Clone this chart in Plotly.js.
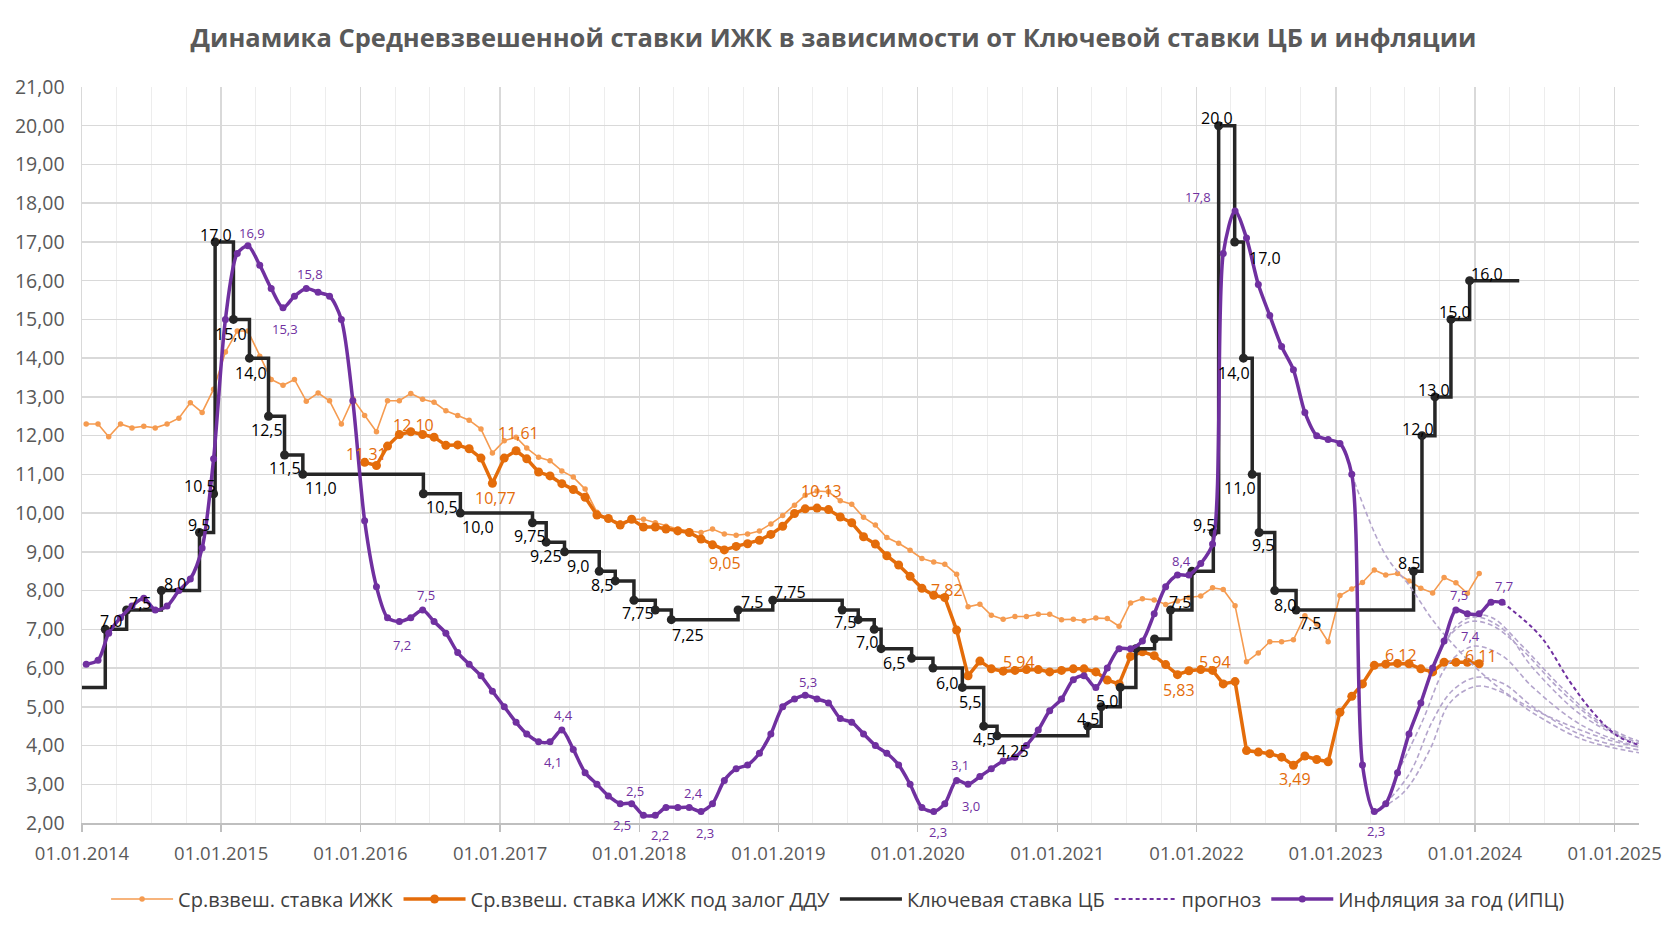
<!DOCTYPE html>
<html><head><meta charset="utf-8">
<script src="https://cdn.plot.ly/plotly-3.0.1.min.js"></script>
<style>html,body{margin:0;padding:0;background:#fff}#chart{width:1667px;height:938px}</style>
</head><body><div id="chart"></div>
<script>
// ---------------- DATA ----------------
// Ср.взвеш. ставка ИЖК, monthly from 2014-01 to 2024-01
const izhkStart = [2014, 1];
const izhkRate = [
  12.30, 12.30, 11.97, 12.30, 12.20, 12.24, 12.20, 12.30, 12.45, 12.85, 12.60, 13.20,
  14.16, 14.70, 14.70, 14.05, 13.45, 13.30, 13.45, 12.89, 13.10, 12.90, 12.30, 12.95,
  12.52, 12.10, 12.90, 12.90, 13.09, 12.94, 12.86, 12.64, 12.52, 12.40, 12.17, 11.55,
  11.87, 11.96, 11.68, 11.44, 11.35, 11.09, 10.93, 10.62, 10.02, 9.85, 9.75, 9.84,
  9.84, 9.75, 9.66, 9.59, 9.54, 9.50, 9.59, 9.46, 9.43, 9.46, 9.54, 9.72,
  9.94, 10.20, 10.46, 10.57, 10.55, 10.32, 10.23, 9.89, 9.69, 9.37, 9.22, 9.04,
  8.83, 8.74, 8.68, 8.42, 7.58, 7.65, 7.36, 7.26, 7.33, 7.33, 7.39, 7.39,
  7.25, 7.26, 7.22, 7.29, 7.28, 7.08, 7.68, 7.79, 7.76, 7.64, 7.73, 7.82,
  7.86, 8.07, 8.03, 7.61, 6.16, 6.39, 6.68, 6.68, 6.73, 7.35, 7.14, 6.68,
  7.87, 8.04, 8.21, 8.53, 8.40, 8.44, 8.25, 8.06, 7.94, 8.34, 8.20, 7.93,
  8.44
];

// Ср.взвеш. ставка ИЖК под залог ДДУ, monthly from 2016-01 to 2024-01
const dduStart = [2016, 1];
const dduRate = [
  11.31, 11.23, 11.73, 12.03, 12.10, 12.03, 11.96, 11.75, 11.76, 11.66, 11.42, 10.77,
  11.42, 11.61, 11.40, 11.06, 10.96, 10.76, 10.61, 10.41, 9.95, 9.86, 9.69, 9.84,
  9.64, 9.64, 9.59, 9.54, 9.50, 9.33, 9.18, 9.05, 9.14, 9.21, 9.30, 9.45,
  9.66, 9.99, 10.11, 10.13, 10.09, 9.90, 9.75, 9.39, 9.20, 8.90, 8.66, 8.37,
  8.06, 7.88, 7.82, 6.98, 5.80, 6.18, 5.98, 5.92, 5.94, 5.96, 5.96, 5.90,
  5.94, 5.98, 5.98, 5.90, 5.69, 5.59, 6.30, 6.42, 6.32, 6.09, 5.83, 5.93,
  5.96, 5.94, 5.59, 5.65, 3.87, 3.83, 3.79, 3.70, 3.49, 3.73, 3.64, 3.58,
  4.86, 5.27, 5.59, 6.07, 6.10, 6.12, 6.11, 5.98, 5.90, 6.15, 6.15, 6.15,
  6.11
];

// Ключевая ставка ЦБ (dates of change)
const keyDates = [
  '2014-01-01','2014-03-03','2014-04-28','2014-07-28','2014-11-05','2014-12-12','2014-12-16',
  '2015-02-02','2015-03-16','2015-05-05','2015-06-16','2015-08-03',
  '2016-06-14','2016-09-19',
  '2017-03-27','2017-05-02','2017-06-19','2017-09-18','2017-10-30','2017-12-18',
  '2018-02-12','2018-03-26','2018-09-17','2018-12-17',
  '2019-06-17','2019-07-29','2019-09-09','2019-09-27','2019-12-16',
  '2020-02-10','2020-04-27','2020-06-22','2020-07-27',
  '2021-03-22','2021-04-26','2021-06-15','2021-07-26','2021-09-13','2021-10-25','2021-12-20',
  '2022-02-14','2022-02-28','2022-04-11','2022-05-04','2022-05-27','2022-06-14','2022-07-25','2022-09-19',
  '2023-07-24','2023-08-15','2023-09-18','2023-10-30','2023-12-18','2024-04-26'
];
const keyRate = [
  5.5, 7.0, 7.5, 8.0, 9.5, 10.5, 17.0,
  15.0, 14.0, 12.5, 11.5, 11.0,
  10.5, 10.0,
  9.75, 9.25, 9.0, 8.5, 8.25, 7.75,
  7.5, 7.25, 7.5, 7.75,
  7.5, 7.25, 7.0, 6.5, 6.25,
  6.0, 5.5, 4.5, 4.25,
  4.5, 5.0, 5.5, 6.5, 6.75, 7.5, 8.5,
  9.5, 20.0, 17.0, 14.0, 11.0, 9.5, 8.0, 7.5,
  8.5, 12.0, 13.0, 15.0, 16.0, 16.0
];

// Инфляция за год (ИПЦ), monthly from 2014-01 to 2024-03
const cpiStart = [2014, 1];
const cpi = [
  6.1, 6.2, 6.9, 7.3, 7.6, 7.8, 7.5, 7.6, 8.0, 8.3, 9.1, 11.4,
  15.0, 16.7, 16.9, 16.4, 15.8, 15.3, 15.6, 15.8, 15.7, 15.6, 15.0, 12.9,
  9.8, 8.1, 7.3, 7.2, 7.3, 7.5, 7.2, 6.9, 6.4, 6.1, 5.8, 5.4,
  5.0, 4.6, 4.3, 4.1, 4.1, 4.4, 3.9, 3.3, 3.0, 2.7, 2.5, 2.5,
  2.2, 2.2, 2.4, 2.4, 2.4, 2.3, 2.5, 3.1, 3.4, 3.5, 3.8, 4.3,
  5.0, 5.2, 5.3, 5.2, 5.1, 4.7, 4.6, 4.3, 4.0, 3.8, 3.5, 3.0,
  2.4, 2.3, 2.5, 3.1, 3.0, 3.2, 3.4, 3.6, 3.7, 4.0, 4.4, 4.9,
  5.2, 5.7, 5.8, 5.5, 6.0, 6.5, 6.5, 6.7, 7.4, 8.1, 8.4, 8.4,
  8.7, 9.2, 16.7, 17.8, 17.1, 15.9, 15.1, 14.3, 13.7, 12.6, 12.0, 11.9,
  11.8, 11.0, 3.5, 2.3, 2.5, 3.3, 4.3, 5.1, 6.0, 6.7, 7.5, 7.4,
  7.4, 7.7, 7.7
];

// прогноз (current forecast)
const prognozDates = ['2024-03-12','2024-06-20','2024-09-07','2024-11-06','2025-01-08','2025-03-10'];
const prognozValues = [7.7, 6.83, 5.63, 4.85, 4.25, 4.0];

// earlier forecasts (light dashed)
const oldFcDates1 = ['2023-02-12','2023-05-10','2023-07-15','2023-09-15','2023-11-15','2024-01-15','2024-04-15','2024-08-15','2024-12-15','2025-03-10'];
const oldFcValues1 = [11.0, 8.94, 8.1, 7.2, 6.5, 5.9, 5.2, 4.6, 4.15, 3.95];
const oldFcDates2 = ['2023-04-12','2023-06-27','2023-09-05','2023-10-27','2024-01-04','2024-03-15','2024-06-01','2024-10-11','2025-03-08'];
const oldFcValues2 = [2.3, 2.78, 3.9, 5.1, 5.53, 5.36, 4.84, 4.15, 3.81];
const oldFcDates3 = ['2023-05-12','2023-07-15','2023-09-10','2023-11-01','2024-01-04','2024-03-15','2024-06-01','2024-10-11','2025-03-08'];
const oldFcValues3 = [2.5, 3.3, 4.6, 5.4, 5.76, 5.6, 5.0, 4.25, 3.88];
const oldFcDates4 = ['2023-06-12','2023-08-15','2023-10-15','2023-12-01','2024-01-04','2024-03-15','2024-06-01','2024-10-11','2025-03-08'];
const oldFcValues4 = [3.3, 4.6, 6.0, 6.45, 6.57, 6.3, 5.5, 4.5, 3.95];
const oldFcDates5 = ['2023-08-12','2023-10-01','2023-11-20','2024-01-04','2024-03-15','2024-06-01','2024-10-11','2025-03-08'];
const oldFcValues5 = [5.1, 6.4, 7.15, 7.32, 7.0, 6.0, 4.75, 4.0];
const oldFcDates6 = ['2023-09-12','2023-11-01','2023-12-20','2024-02-15','2024-05-01','2024-08-15','2024-12-01','2025-03-08'];
const oldFcValues6 = [6.0, 6.9, 7.2, 7.1, 6.5, 5.4, 4.5, 4.05];
const oldFcDates7 = ['2023-12-12','2024-02-15','2024-05-01','2024-08-15','2024-12-01','2025-03-08'];
const oldFcValues7 = [7.4, 7.3, 6.6, 5.5, 4.55, 4.1];

const legendNames = ['Ср.взвеш. ставка ИЖК', 'Ср.взвеш. ставка ИЖК под залог ДДУ', 'Ключевая ставка ЦБ', 'прогноз', 'Инфляция за год (ИПЦ)'];
const chartTitle = 'Динамика Средневзвешенной ставки ИЖК в зависимости от Ключевой ставки ЦБ и инфляции';

// ---------------- HELPERS ----------------
function monthly(start, n) {
  const out = [];
  let y = start[0], m = start[1];
  for (let i = 0; i < n; i++) {
    out.push(y + '-' + String(m).padStart(2, '0') + '-12');
    m++; if (m > 12) { m = 1; y++; }
  }
  return out;
}
const izhkDates = monthly(izhkStart, izhkRate.length);
const dduDates = monthly(dduStart, dduRate.length);
const cpiDates = monthly(cpiStart, cpi.length);

const fmt1 = v => v.toFixed(1).replace('.', ',');
const fmt2 = v => v.toFixed(2).replace('.', ',');
const fmtKey = v => (Math.round(v * 10) / 10 === v ? v.toFixed(1) : v.toFixed(2)).replace('.', ',');

const C_LIGHT = '#F59B50', C_DARK = '#E46C0A', C_KEY = '#262626', C_CPI = '#7030A0', C_OLD = '#B4A5CC';
const FONT = 'Open Sans, Liberation Sans, sans-serif';

// label placement specs: [index, dx, dy(screen, down positive)]
const keyLabelSpec = [
  [1,6,-8],[2,13,-7],[3,14,-7],[4,0,-7],[5,-14,-8],[6,1,-7],
  [7,-2,15],[8,2,15],[9,-2,14],[10,0,13],[11,18,14],
  [12,19,13],[13,18,14],
  [14,-2,13],[15,0,14],[16,13,14],[17,3,14],[19,4,13],
  [21,17,15],[22,14,-8],[23,17,-8],
  [24,3,12],[26,-7,13],[27,13,14],
  [29,14,15],[30,8,15],[31,0,13],[32,16,15],
  [33,0,-7],[34,6,-6],[38,9,-8],
  [40,-9,-7],[41,-2,-8],[42,30,16],[43,-9,15],[44,-12,14],[45,4,13],[46,10,14],[47,14,13],
  [48,-5,-8],[49,-4,-7],[50,-1,-7],[51,4,-7],[52,17,-7]
];
const cpiLabelSpec = [
  [14,4,-13],[17,2,21],[19,4,-14],[27,3,23],[29,3,-15],[40,3,20],[41,2,-15],
  [46,2,21],[47,3,-13],[49,5,20],[52,4,-15],[53,4,22],[62,3,-13],
  [73,4,21],[75,3,-15],[76,3,22],[94,4,-14],[99,-37,-14],
  [111,2,20],[118,3,-15],[119,3,22],[122,2,-16]
];
const dduLabelSpec = [
  [0,2,-8],[4,3,-7],[11,3,15],[13,2,-18],[31,1,13],[39,4,-17],[50,2,-8],
  [56,4,-8],[70,2,15],[73,2,-8],[80,2,14],[89,3,-8],[96,2,-8]
];

const annotations = [];
function addLabels(xs, ys, spec, fmt, color, size) {
  spec.forEach(([i, dx, dy]) => {
    annotations.push({
      x: xs[i], y: ys[i], xref: 'x', yref: 'y', text: fmt(ys[i]), showarrow: false,
      xanchor: 'center', yanchor: 'middle', xshift: dx, yshift: -dy,
      font: {family: FONT, size: size, color: color}
    });
  });
}
addLabels(keyDates, keyRate, keyLabelSpec, fmtKey, '#000000', 16);
addLabels(cpiDates, cpi, cpiLabelSpec, fmt1, C_CPI, 13);
addLabels(dduDates, dduRate, dduLabelSpec, fmt2, C_DARK, 16);

// ---------------- TRACES ----------------
const traces = [];
traces.push({
  type: 'scatter', mode: 'lines+markers', name: legendNames[0],
  x: izhkDates, y: izhkRate,
  line: {color: C_LIGHT, width: 1.6}, marker: {color: C_LIGHT, size: 5.5}
});
traces.push({
  type: 'scatter', mode: 'lines+markers', name: legendNames[1],
  x: dduDates, y: dduRate,
  line: {color: C_DARK, width: 3.5}, marker: {color: C_DARK, size: 9}
});
traces.push({
  type: 'scatter', mode: 'lines', name: legendNames[2],
  x: keyDates, y: keyRate,
  line: {color: C_KEY, width: 3.5, shape: 'hv'}
});
traces.push({
  type: 'scatter', mode: 'markers', showlegend: false,
  x: keyDates.slice(1, -1), y: keyRate.slice(1, -1),
  marker: {color: C_KEY, size: 9}
});
const oldFc = [
  [oldFcDates1, oldFcValues1], [oldFcDates2, oldFcValues2], [oldFcDates3, oldFcValues3],
  [oldFcDates4, oldFcValues4], [oldFcDates5, oldFcValues5], [oldFcDates6, oldFcValues6],
  [oldFcDates7, oldFcValues7]
];
oldFc.forEach(([xd, yd]) => {
  traces.push({
    type: 'scatter', mode: 'lines', showlegend: false,
    x: xd, y: yd,
    line: {color: C_OLD, width: 1.6, dash: '5px,3px', shape: 'spline', smoothing: 1}
  });
});
traces.push({
  type: 'scatter', mode: 'lines', name: legendNames[3],
  x: prognozDates, y: prognozValues,
  line: {color: C_CPI, width: 2, dash: '4px,3px', shape: 'spline', smoothing: 1}
});
traces.push({
  type: 'scatter', mode: 'lines+markers', name: legendNames[4],
  x: cpiDates, y: cpi,
  line: {color: C_CPI, width: 3.5, shape: 'spline', smoothing: 0.8}, marker: {color: C_CPI, size: 7}
});

const layout = {
  width: 1667, height: 938,
  paper_bgcolor: '#ffffff', plot_bgcolor: '#ffffff',
  margin: {l: 82, r: 28, t: 87, b: 115},
  separators: ', ',
  font: {family: FONT, color: '#595959'},
  showlegend: true,
  hovermode: false,
  title: {
    text: chartTitle, x: 0.5, xanchor: 'center', xref: 'container',
    y: 1 - 38 / 938, yanchor: 'middle', yref: 'container',
    font: {family: FONT, size: 25.5, color: '#595959', weight: 'bold'}
  },
  xaxis: {
    type: 'date', range: ['2014-01-01', '2025-03-06'],
    tick0: '2014-01-01', dtick: 'M12', tickformat: '%d.%m.%Y',
    showgrid: true, gridcolor: '#D9D9D9', gridwidth: 1.5,
    minor: {dtick: 'M3', showgrid: true, gridcolor: '#EDEDED', gridwidth: 1},
    showline: true, linecolor: '#BFBFBF', linewidth: 1.5,
    ticks: 'outside', ticklen: 7, tickcolor: '#BFBFBF', tickwidth: 1.5,
    ticklabelstandoff: 6,
    tickfont: {family: FONT, size: 18.5, color: '#595959'},
    zeroline: false, fixedrange: true
  },
  yaxis: {
    range: [2, 21], tick0: 2, dtick: 1, tickformat: '.2f',
    showgrid: true, gridcolor: '#D9D9D9', gridwidth: 1.5,
    showline: true, linecolor: '#D9D9D9', linewidth: 1.5,
    ticks: '', ticklabelstandoff: 12,
    tickfont: {family: FONT, size: 19.5, color: '#595959'},
    zeroline: false, fixedrange: true
  },
  legend: {
    orientation: 'h', x: 0.4856, xanchor: 'center', y: -0.1033, yanchor: 'middle',
    font: {family: FONT, size: 20, color: '#404040'},
    itemwidth: 62, tracegroupgap: 0
  },
  annotations: annotations
};

Plotly.newPlot('chart', traces, layout, {displayModeBar: false, staticPlot: true});
</script></body></html>
